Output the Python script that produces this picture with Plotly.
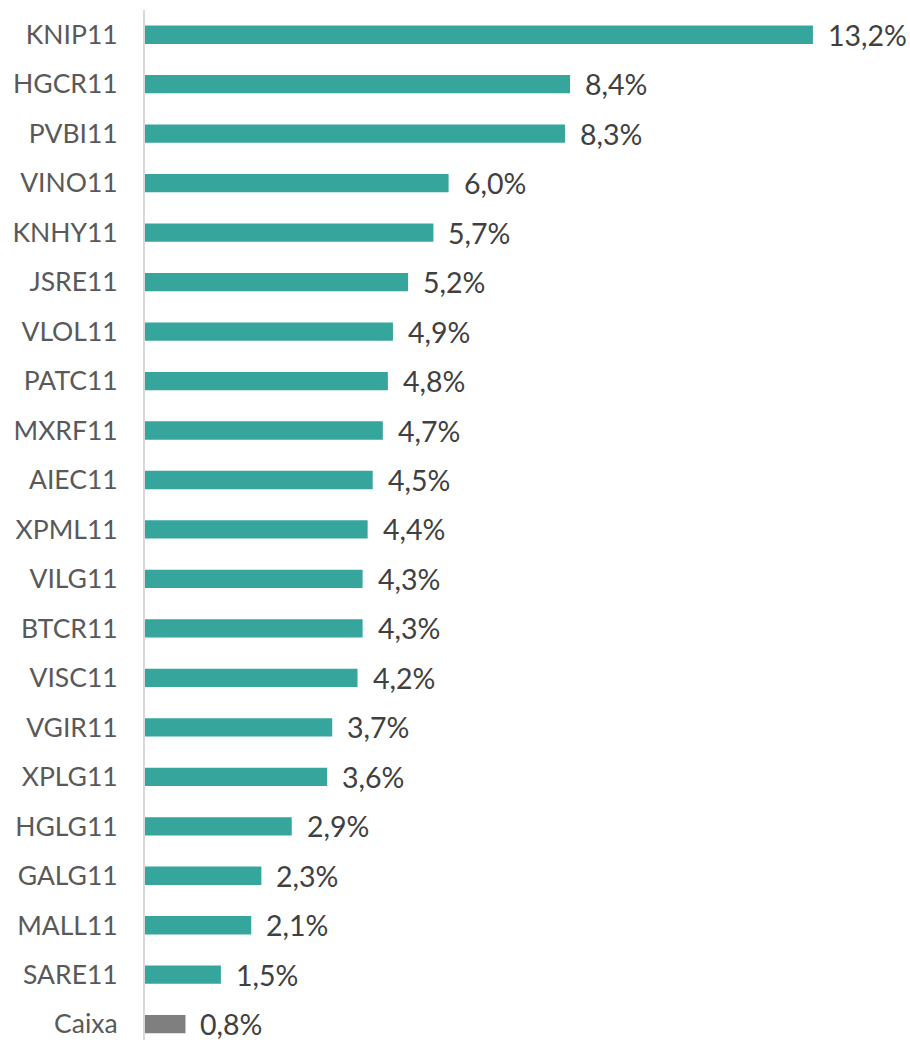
import plotly.graph_objects as go

categories = ["KNIP11", "HGCR11", "PVBI11", "VINO11", "KNHY11", "JSRE11", "VLOL11",
              "PATC11", "MXRF11", "AIEC11", "XPML11", "VILG11", "BTCR11", "VISC11",
              "VGIR11", "XPLG11", "HGLG11", "GALG11", "MALL11", "SARE11", "Caixa"]
values = [13.2, 8.4, 8.3, 6.0, 5.7, 5.2, 4.9, 4.8, 4.7, 4.5, 4.4, 4.3, 4.3, 4.2,
          3.7, 3.6, 2.9, 2.3, 2.1, 1.5, 0.8]
labels = [f"{v:.1f}%".replace(".", ",") for v in values]

TEAL = "#36A59C"
GRAY = "#7F7F7F"
colors = [GRAY if c == "Caixa" else TEAL for c in categories]

fig = go.Figure()
fig.add_trace(go.Bar(
    y=categories, x=values, orientation="h",
    marker=dict(color=colors, line=dict(width=0)),
    width=0.37,
    hoverinfo="skip",
))

for c, v, t in zip(categories, values, labels):
    fig.add_annotation(x=v, y=c, text=t, showarrow=False, xanchor="left",
                       xshift=13, yshift=0,
                       font=dict(family="Lato, Carlito, sans-serif", size=28.5, color="#404040"))

fig.update_layout(
    width=910, height=1040,
    margin=dict(l=145, r=0, t=10, b=0, autoexpand=False),
    plot_bgcolor="white", paper_bgcolor="white",
    showlegend=False,
    bargap=0.63,
    xaxis=dict(range=[0, 765 / 50.6], showgrid=False, zeroline=False,
               showticklabels=False, showline=False, fixedrange=True,
               automargin=False),
    yaxis=dict(categoryorder="array", categoryarray=categories,
               range=[20.32, -0.5], showgrid=False, zeroline=False,
               showline=True, linecolor="#D9D9D9", linewidth=2,
               ticks="", ticklabelstandoff=20, automargin=False,
               tickfont=dict(family="Lato, Carlito, sans-serif", size=26.5, color="#595959")),
)

fig.write_html("out.html", config={"displayModeBar": False},
               post_script="document.body.style.margin='0';document.body.style.overflow='hidden';")
